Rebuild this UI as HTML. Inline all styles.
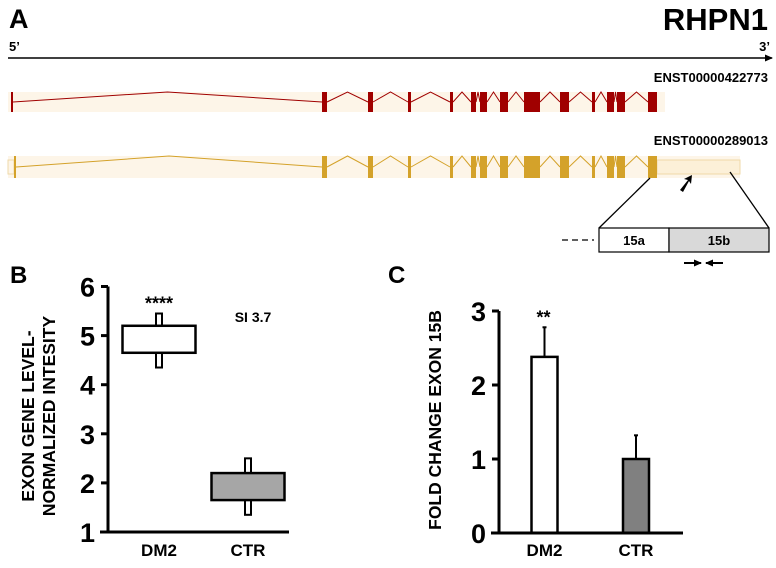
<!DOCTYPE html>
<html><head><meta charset="utf-8">
<style>
body{margin:0;background:#fff;width:776px;height:563px;overflow:hidden;font-family:"Liberation Sans",Arial,sans-serif}
svg text{font-family:"Liberation Sans",Arial,sans-serif;font-weight:bold}
</style></head>
<body>
<svg width="776" height="563" viewBox="0 0 776 563">
<defs><marker id="ah" markerWidth="8" markerHeight="7" refX="7" refY="3.5" orient="auto" markerUnits="userSpaceOnUse"><path d="M0,0L8,3.5L0,7z" fill="#000"/></marker></defs>
<g>
<text x="9" y="28" font-size="27">A</text>
<text x="768" y="30" font-size="31" text-anchor="end">RHPN1</text>
<text x="9" y="51" font-size="13">5’</text>
<text x="770" y="51" font-size="13" text-anchor="end">3’</text>
<line x1="8" y1="58" x2="772" y2="58" stroke="#000" stroke-width="1.5" marker-end="url(#ah)"/>
<text x="768" y="82" font-size="13" text-anchor="end">ENST00000422773</text>
<text x="768" y="145" font-size="13" text-anchor="end">ENST00000289013</text>
<g id="tr1"></g>
<g id="tr2"></g>
<g>
<line x1="650" y1="178" x2="599" y2="228" stroke="#000" stroke-width="1.3"/>
<line x1="730" y1="172" x2="769" y2="228" stroke="#000" stroke-width="1.3"/>
<path d="M680,190 L688,180 L684,179 L692,175 L691,184 L689,181 L683,192z" fill="#000"/>
<line x1="562" y1="240" x2="594" y2="240" stroke="#000" stroke-width="1.3" stroke-dasharray="6,4"/>
<rect x="599" y="228" width="70" height="24" fill="#fff" stroke="#000" stroke-width="1.2"/>
<rect x="669" y="228" width="100" height="24" fill="#d9d9d9" stroke="#000" stroke-width="1.2"/>
<text x="634" y="245" font-size="13" text-anchor="middle">15a</text>
<text x="719" y="245" font-size="13" text-anchor="middle">15b</text>
<line x1="684" y1="263" x2="701" y2="263" stroke="#000" stroke-width="2" marker-end="url(#ah)"/>
<line x1="723" y1="263" x2="706" y2="263" stroke="#000" stroke-width="2" marker-end="url(#ah)"/>
</g>
</g>
<g>
<text x="10" y="283" font-size="24">B</text>
<text transform="translate(34,416) rotate(-90)" font-size="17.5" text-anchor="middle">EXON GENE LEVEL-</text>
<text transform="translate(55,416) rotate(-90)" font-size="17.5" text-anchor="middle">NORMALIZED INTESITY</text>
<text x="253" y="322" font-size="14" text-anchor="middle">SI 3.7</text>
<g id="chartB"></g>
</g>
<g>
<text x="388" y="283" font-size="24">C</text>
<text transform="translate(441,420) rotate(-90)" font-size="17.5" text-anchor="middle">FOLD CHANGE EXON 15B</text>
<g id="chartC"></g>
</g>
</svg>
<script>
const NS="http://www.w3.org/2000/svg";
function mk(p,t,a){const e=document.createElementNS(NS,t);for(const k in a)e.setAttribute(k,a[k]);p.appendChild(e);return e;}
const exons=[[322,327],[368,373],[408,411],[450,453],[471,476],[480,487],[500,508],[524,540],[560,569],[592,595],[607,614],[617,625],[648,657]];
function drawTr(id,y0,h,col,first,bandEnd,ext){
  const g=document.getElementById(id);
  mk(g,'rect',{x:8,y:y0,width:bandEnd-8,height:h,fill:'#fdf5e8'});
  if(ext){const r=mk(g,'rect',{x:657,y:y0+4,width:83,height:h-8,fill:'#fcf0d8',stroke:'#efd9a8','stroke-width':1});
    
    mk(g,'rect',{x:8,y:y0+4,width:6,height:h-8,fill:'none',stroke:'#efd9a8'});}
  const all=[first].concat(exons);
  const mid=y0+h/2;
  for(let i=0;i<all.length-1;i++){
    const a=all[i][1],b=all[i+1][0],m=(a+b)/2;
    mk(g,'polyline',{points:`${a},${mid} ${m},${y0} ${b},${mid}`,fill:'none',stroke:col,'stroke-width':1});
  }
  all.forEach(e=>{const r=mk(g,'rect',{x:e[0],y:y0,width:e[1]-e[0],height:h,fill:col});
    });
}
drawTr('tr1',92,20,'#a00000',[11,13],665,false);
drawTr('tr2',156,22,'#d4a22a',[14,16],740,true);

// Chart B: box plot
const bCats=['DM2','CTR'];
const bQ1=[4.65,1.65],bQ3=[5.2,2.2],bMin=[4.35,1.35],bMax=[5.45,2.5];
const bTicks=[1,2,3,4,5,6];
const bFill=['#ffffff','#a6a6a6'];
(function(){
  const g=document.getElementById('chartB');
  const y=v=>532-(v-1)*49.1;
  const xc=[159,248],bw=73;
  bCats.forEach((c,i)=>{
    const w1=mk(g,'rect',{x:xc[i]-3,y:y(bMax[i]),width:6,height:y(bMin[i])-y(bMax[i]),fill:'#fff',stroke:'#000','stroke-width':2});
    
    const r=mk(g,'rect',{x:xc[i]-bw/2,y:y(bQ3[i]),width:bw,height:y(bQ1[i])-y(bQ3[i]),fill:bFill[i],stroke:'#000','stroke-width':2.5});
    
    const t=mk(g,'text',{x:xc[i],y:556,'font-size':17,'text-anchor':'middle'});t.textContent=c;
    
  });
  const s=mk(g,'text',{x:xc[0],y:y(5.45)-4,'font-size':18,'text-anchor':'middle'});s.textContent='****';
  
  mk(g,'line',{x1:108,y1:y(6),x2:108,y2:y(1),stroke:'#000','stroke-width':3});
  mk(g,'line',{x1:100,y1:y(1),x2:289,y2:y(1),stroke:'#000','stroke-width':3});
  bTicks.forEach(v=>{mk(g,'line',{x1:101,y1:y(v),x2:108,y2:y(v),stroke:'#000','stroke-width':3});
    const t=mk(g,'text',{x:95,y:y(v)+10,'font-size':27,'text-anchor':'end'});t.textContent=v;
    });
})();

// Chart C: bar chart
const cCats=['DM2','CTR'];
const cVals=[2.38,1.0];
const cErr=[0.4,0.32];
const cTicks=[0,1,2,3];
const cFill=['#ffffff','#808080'];
(function(){
  const g=document.getElementById('chartC');
  const y=v=>533-v*74;
  const xc=[544.5,636],bw=26;
  cCats.forEach((c,i)=>{
    mk(g,'line',{x1:xc[i],y1:y(cVals[i]),x2:xc[i],y2:y(cVals[i]+cErr[i]),stroke:'#000','stroke-width':2});
    mk(g,'line',{x1:xc[i]-2,y1:y(cVals[i]+cErr[i]),x2:xc[i]+2,y2:y(cVals[i]+cErr[i]),stroke:'#000','stroke-width':2});
    const r=mk(g,'rect',{x:xc[i]-bw/2,y:y(cVals[i]),width:bw,height:y(0)-y(cVals[i]),fill:cFill[i],stroke:'#000','stroke-width':2.5});
    
    const t=mk(g,'text',{x:xc[i],y:556,'font-size':17,'text-anchor':'middle'});t.textContent=c;
    
  });
  const s=mk(g,'text',{x:xc[0]-1,y:y(cVals[0]+cErr[0])-4,'font-size':18,'text-anchor':'middle'});s.textContent='**';
  
  mk(g,'line',{x1:499,y1:y(3),x2:499,y2:y(0),stroke:'#000','stroke-width':3});
  mk(g,'line',{x1:491,y1:y(0),x2:683,y2:y(0),stroke:'#000','stroke-width':3});
  cTicks.forEach(v=>{mk(g,'line',{x1:492,y1:y(v),x2:499,y2:y(v),stroke:'#000','stroke-width':3});
    const t=mk(g,'text',{x:486,y:y(v)+10,'font-size':27,'text-anchor':'end'});t.textContent=v;
    });
})();
</script>
</body></html>
